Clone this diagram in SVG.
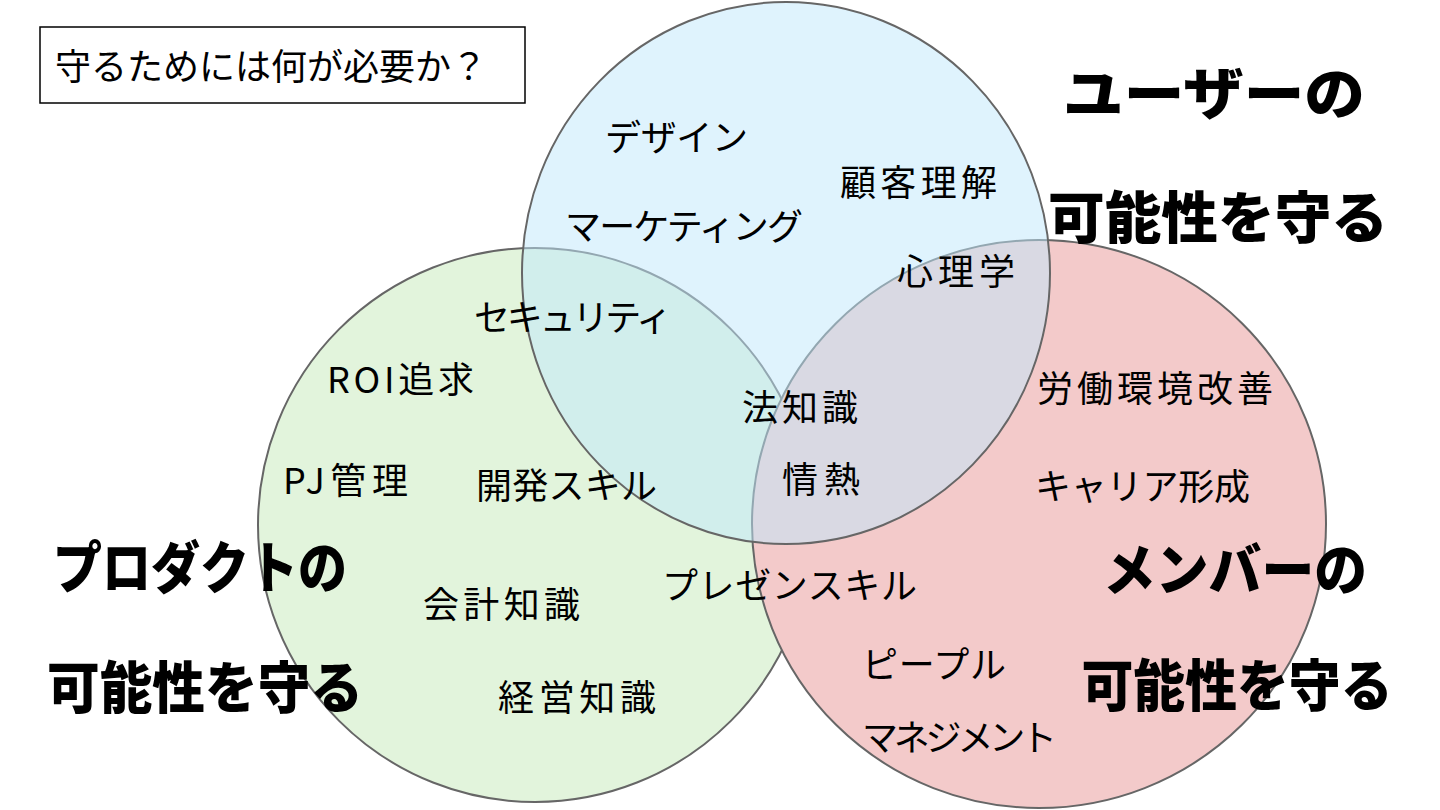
<svg xmlns="http://www.w3.org/2000/svg" width="1440" height="810" viewBox="0 0 1440 810">
<style>
.c{stroke:#666;stroke-width:2}
.t{font-family:"Noto Sans CJK JP","Noto Sans",sans-serif;font-size:36px;fill:#000}
.b{font-family:"Noto Sans CJK JP","Noto Sans",sans-serif;font-size:56px;font-weight:900;fill:#000;text-anchor:middle}
</style>
<rect width="1440" height="810" fill="#fff"/>
<g id="circle-product"><ellipse class="c" cx="535" cy="525" rx="277" ry="277" fill="#e2f4dc"/></g>
<g id="circle-member"><ellipse class="c" cx="1039" cy="524" rx="287" ry="284" fill="#f3caca"/></g>
<g id="circle-user"><ellipse class="c" cx="786" cy="273" rx="264" ry="271" fill="rgb(191,231,251)" fill-opacity="0.5"/></g>
<g id="question">
<rect x="40" y="27" width="485" height="76" fill="#fff" stroke="#000" stroke-width="1.5"/>
<text class="t" x="55" y="80" textLength="432">守るためには何が必要か？</text>
</g>
<g id="titles">
<text class="b" x="1214" y="114" font-size="58" textLength="302" lengthAdjust="spacingAndGlyphs">ユーザーの</text>
<text class="b" x="1218" y="238" font-size="58" textLength="340" lengthAdjust="spacingAndGlyphs">可能性を守る</text>
<text class="b" x="200" y="588" font-size="53" textLength="294" lengthAdjust="spacingAndGlyphs">プロダクトの</text>
<text class="b" x="205" y="708" font-size="53" textLength="316" lengthAdjust="spacingAndGlyphs">可能性を守る</text>
<text class="b" x="1235" y="590" font-size="55" textLength="264" lengthAdjust="spacingAndGlyphs">メンバーの</text>
<text class="b" x="1237" y="706" font-size="53" textLength="311" lengthAdjust="spacingAndGlyphs">可能性を守る</text>
</g>
<g id="labels">
<text class="t" x="605" y="151" textLength="143">デザイン</text>
<text class="t" x="840" y="196" textLength="157">顧客理解</text>
<text class="t" x="565" y="240" textLength="238">マーケティング</text>
<text class="t" x="897" y="285" textLength="118">心理学</text>
<text class="t" x="474" y="331" textLength="198">セキュリティ</text>
<text class="t" x="327" y="393" textLength="147">ROI追求</text>
<text class="t" x="742" y="421" textLength="116">法知識</text>
<text class="t" x="1037" y="402" textLength="236">労働環境改善</text>
<text class="t" x="283" y="494" textLength="125">PJ管理</text>
<text class="t" x="476" y="499" textLength="181">開発スキル</text>
<text class="t" x="782" y="493" textLength="78">情熱</text>
<text class="t" x="1035" y="500" textLength="215">キャリア形成</text>
<text class="t" x="662" y="599" textLength="255">プレゼンスキル</text>
<text class="t" x="423" y="618" textLength="157">会計知識</text>
<text class="t" x="498" y="711" textLength="158">経営知識</text>
<text class="t" x="862" y="678" textLength="144">ピープル</text>
<text class="t" x="862" y="751" textLength="195">マネジメント</text>
</g>
</svg>
